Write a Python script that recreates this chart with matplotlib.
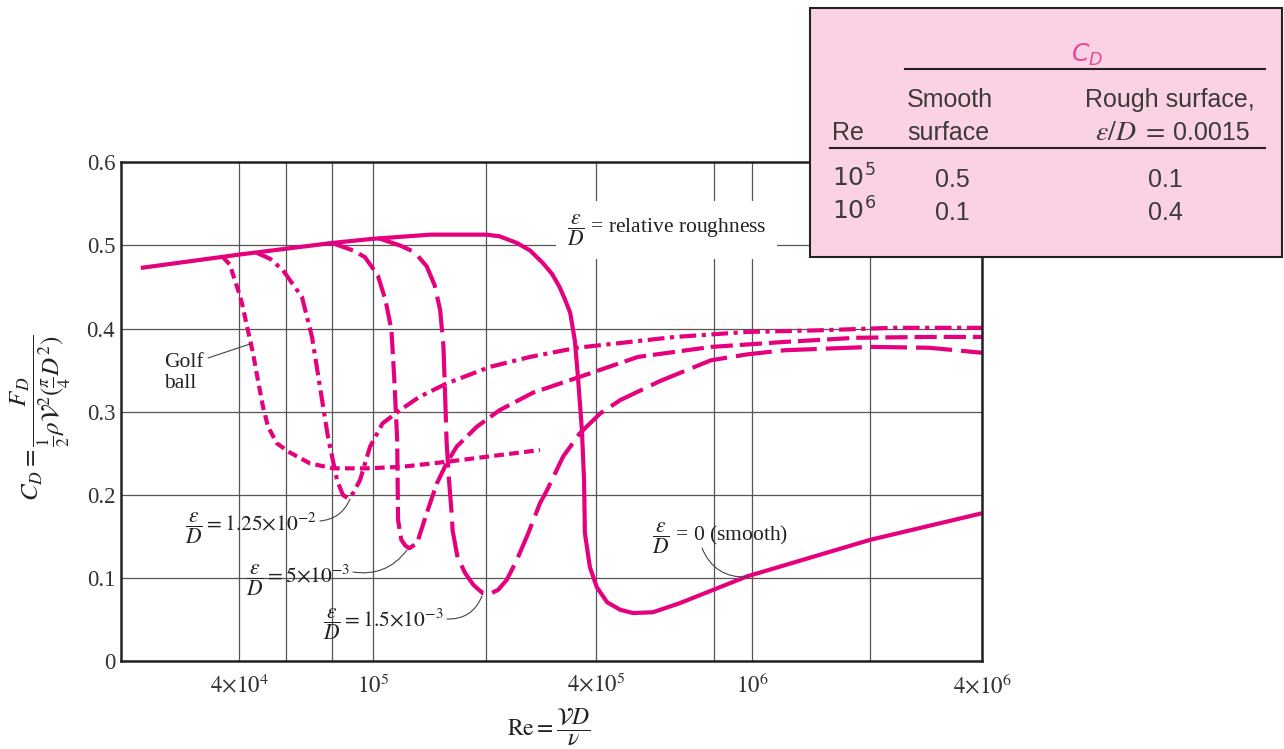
import numpy as np
import matplotlib
matplotlib.use("Agg")
import matplotlib.pyplot as plt
from matplotlib.patches import Rectangle
from matplotlib.lines import Line2D

plt.rcParams["font.family"] = ["Liberation Serif", "DejaVu Serif"]
plt.rcParams["mathtext.fontset"] = "stix"
plt.rcParams["lines.scale_dashes"] = False

MAGENTA = "#E5007D"
PINK = "#FAD2E4"
INK = "#333333"

# ---- curve data (Re, C_D) ----
RE_SMOOTH = [2.25e4, 4.0e4, 8.0e4, 1.0e5, 1.42e5, 2.01e5, 2.18e5, 2.43e5, 2.64e5, 2.86e5,
             3.03e5, 3.18e5, 3.29e5, 3.40e5, 3.50e5, 3.57e5, 3.66e5, 3.71e5, 3.73e5, 3.85e5,
             4.02e5, 4.27e5, 4.61e5, 4.97e5, 5.59e5, 6.55e5, 9.70e5, 2.0e6, 4.0e6]
CD_SMOOTH = [0.473, 0.489, 0.503, 0.508, 0.513, 0.513, 0.511, 0.503, 0.494, 0.479,
             0.466, 0.450, 0.435, 0.419, 0.386, 0.342, 0.278, 0.218, 0.154, 0.113,
             0.089, 0.071, 0.062, 0.058, 0.059, 0.070, 0.102, 0.146, 0.178]

RE_15E3 = [1.03e5, 1.18e5, 1.29e5, 1.39e5, 1.46e5, 1.51e5, 1.54e5, 1.555e5, 1.57e5, 1.59e5,
           1.62e5, 1.63e5, 1.68e5, 1.76e5, 1.85e5, 1.96e5, 2.05e5, 2.16e5, 2.28e5, 2.43e5,
           2.61e5, 2.81e5, 2.94e5, 3.25e5, 3.61e5, 4.10e5, 4.61e5, 5.83e5, 7.86e5, 9.71e5,
           1.21e6, 2.01e6, 2.88e6, 4.0e6]
CD_15E3 = [0.509, 0.500, 0.492, 0.475, 0.452, 0.422, 0.380, 0.326, 0.266, 0.224,
           0.178, 0.157, 0.125, 0.106, 0.092, 0.082, 0.081, 0.086, 0.098, 0.122,
           0.154, 0.190, 0.206, 0.246, 0.274, 0.298, 0.314, 0.337, 0.362, 0.369,
           0.374, 0.378, 0.377, 0.371]

RE_5E3 = [8.0e4, 8.97e4, 9.57e4, 1.03e5, 1.08e5, 1.12e5, 1.14e5, 1.16e5, 1.166e5, 1.19e5,
          1.22e5, 1.25e5, 1.31e5, 1.39e5, 1.48e5, 1.57e5, 1.67e5, 1.89e5, 2.18e5, 2.69e5,
          3.61e5, 5.12e5, 7.86e5, 1.21e6, 1.84e6, 2.88e6, 4.0e6]
CD_5E3 = [0.503, 0.494, 0.486, 0.464, 0.434, 0.398, 0.338, 0.266, 0.170, 0.146,
          0.139, 0.136, 0.142, 0.178, 0.214, 0.238, 0.258, 0.282, 0.302, 0.323,
          0.342, 0.366, 0.378, 0.384, 0.389, 0.390, 0.390]

RE_125E2 = [4.67e4, 5.23e4, 5.85e4, 6.63e4, 7.06e4, 7.42e4, 7.80e4, 8.22e4, 8.49e4, 8.73e4,
            8.97e4, 9.32e4, 9.84e4, 1.06e5, 1.18e5, 1.33e5, 1.57e5, 2.05e5, 2.64e5, 3.55e5,
            4.88e5, 6.36e5, 9.71e5, 1.49e6, 2.31e6, 4.0e6]
CD_125E2 = [0.491, 0.484, 0.470, 0.438, 0.390, 0.330, 0.270, 0.218, 0.200, 0.196,
            0.202, 0.218, 0.258, 0.286, 0.302, 0.318, 0.334, 0.354, 0.366, 0.377,
            0.384, 0.390, 0.396, 0.398, 0.401, 0.401]

RE_GOLF = [3.64e4, 3.79e4, 3.98e4, 4.10e4, 4.32e4, 4.51e4, 4.71e4, 4.92e4, 5.14e4, 5.55e4,
           6.15e4, 6.97e4, 8.04e4, 9.68e4, 1.20e5, 1.58e5, 2.01e5, 2.81e5]
CD_GOLF = [0.486, 0.477, 0.446, 0.431, 0.398, 0.371, 0.338, 0.306, 0.282, 0.262,
           0.251, 0.238, 0.232, 0.232, 0.234, 0.240, 0.246, 0.254]

# ---- axis ----
X_TICKS = [4e4, 1e5, 4e5, 1e6, 4e6]
X_TICK_LABELS = [r"$4{\times}10^4$", r"$10^5$", r"$4{\times}10^5$", r"$10^6$", r"$4{\times}10^6$"]
X_MINOR = [6e4, 8e4, 2e5, 8e5, 2e6]
Y_TICKS = [0, 0.1, 0.2, 0.3, 0.4, 0.5, 0.6]
Y_TICK_LABELS = ["0", "0.1", "0.2", "0.3", "0.4", "0.5", "0.6"]

# the printed log axis is hand drawn, so calibrate it on its grid lines
GRID_RE = [2e4, 4e4, 6e4, 8e4, 1e5, 2e5, 4e5, 8e5, 1e6, 2e6, 4e6]
GRID_POS = [0, 118.3, 165.3, 211.3, 252.3, 365.3, 475.3, 593.3, 631.3, 749.3, 861.3]

# ---- table ----
TABLE_RE = [r"$10^5$", r"$10^6$"]
TABLE_SMOOTH = ["0.5", "0.1"]
TABLE_ROUGH = ["0.1", "0.4"]

W, H = 1284, 749


def fx(x):
    return x / W


def fy(y):
    return 1 - y / H


LOG_RE = np.log10(GRID_RE)


def fwd(x):
    x = np.asarray(x, dtype=float)
    return np.interp(np.log10(np.clip(x, 1.0, None)), LOG_RE, GRID_POS)


def inv(p):
    return 10 ** np.interp(np.asarray(p, dtype=float), GRID_POS, LOG_RE)


fig = plt.figure(figsize=(W / 100, H / 100), dpi=100)
ax = fig.add_axes([fx(120.7), fy(661.3), fx(982) - fx(120.7), fy(162.3) - fy(661.3)])
ax.set_xscale("function", functions=(fwd, inv))
ax.set_xlim(2e4, 4e6)
ax.set_ylim(0, 0.6)

ax.set_xticks(X_TICKS)
ax.set_xticklabels(X_TICK_LABELS)
ax.set_xticks(X_MINOR, minor=True)
ax.set_yticks(Y_TICKS)
ax.set_yticklabels(Y_TICK_LABELS)
ax.tick_params(which="both", length=0, labelsize=16.5, labelcolor=INK)
ax.tick_params(axis="x", pad=9)
ax.tick_params(axis="y", pad=4)
ax.set_axisbelow(True)
ax.grid(True, which="both", axis="x", color="#555555", lw=0.9)
ax.grid(True, which="major", axis="y", color="#555555", lw=0.9)
for sp in ax.spines.values():
    sp.set_color("#222222")
    sp.set_linewidth(1.8)

style = dict(color=MAGENTA, lw=3.0, zorder=2, solid_capstyle="butt", dash_capstyle="butt")
ax.plot(RE_SMOOTH, CD_SMOOTH, solid_joinstyle="round", **style)
ax.plot(RE_15E3, CD_15E3, dashes=(26, 6.5), **style)
ax.plot(RE_5E3, CD_5E3, dashes=(16, 5), **style)
ax.plot(RE_125E2, CD_125E2, dashes=(12, 4, 3, 4), **style)
ax.plot(RE_GOLF, CD_GOLF, dashes=(7, 3.8), **style)

# ---- labels on the curves ----
ann = dict(fontsize=15.5, color="#222222")
fig.text(fx(567), fy(230), r"$\dfrac{\varepsilon}{D}$ = relative roughness", ha="left", va="center",
         zorder=1.5, bbox=dict(boxstyle="square,pad=0.5", fc="white", ec="none"), **ann)
fig.text(fx(164), fy(373), "Golf\nball", ha="left", va="center", linespacing=1.1, **ann)
fig.text(fx(185), fy(528), r"$\dfrac{\varepsilon}{D} = 1.25{\times}10^{-2}$", ha="left", va="center", **ann)
fig.text(fx(246), fy(580), r"$\dfrac{\varepsilon}{D} = 5{\times}10^{-3}$", ha="left", va="center", **ann)
fig.text(fx(323), fy(624), r"$\dfrac{\varepsilon}{D} = 1.5{\times}10^{-3}$", ha="left", va="center", **ann)
fig.text(fx(652), fy(538), r"$\dfrac{\varepsilon}{D}$ = 0 (smooth)", ha="left", va="center", **ann)

leaders = [((208, 358), (250, 344), 0.0),
           ((320, 521), (350, 499), 0.3),
           ((353, 572), (407, 550), 0.3),
           ((447, 619), (482, 596), 0.35),
           ((702, 548), (747, 577), 0.35)]
for start, end, rad in leaders:
    ax.annotate("", xy=(fx(end[0]), fy(end[1])), xytext=(fx(start[0]), fy(start[1])),
                xycoords="figure fraction", textcoords="figure fraction",
                arrowprops=dict(arrowstyle="-", color="#444444", lw=0.8,
                                connectionstyle=f"arc3,rad={rad}", shrinkA=0, shrinkB=0))

fig.text(fx(41), fy(418), r"$C_D = \dfrac{F_D}{\frac{1}{2}\rho\mathcal{V}^{2}(\frac{\pi}{4}D^2)}$",
         rotation=90, ha="center", va="center", fontsize=18, color="#222222")
fig.text(fx(549), fy(727), r"$\mathrm{Re} = \dfrac{\mathcal{V}D}{\nu}$",
         ha="center", va="center", fontsize=17, color="#222222")

# ---- inset table ----
fig.add_artist(Rectangle((fx(810), fy(257)), fx(1282) - fx(810), fy(8) - fy(257),
                         transform=fig.transFigure, facecolor=PINK, edgecolor="#222222",
                         lw=1.5, zorder=5))
fig.add_artist(Line2D([fx(905), fx(1265)], [fy(69), fy(69)], transform=fig.transFigure,
                      color="#222222", lw=1.5, zorder=6))
fig.add_artist(Line2D([fx(830), fx(1265)], [fy(148), fy(148)], transform=fig.transFigure,
                      color="#222222", lw=1.5, zorder=6))

tab = dict(fontsize=18, color="#3a3a3a", family="Liberation Sans", zorder=7, va="baseline")
fig.text(fx(1087), fy(62), r"$C_D$", ha="center", math_fontfamily="dejavusans",
         fontsize=18, color="#E5489A", zorder=7, va="baseline")
fig.text(fx(907), fy(107), "Smooth", ha="left", **tab)
fig.text(fx(907), fy(140), "surface", ha="left", **tab)
fig.text(fx(832), fy(140), "Re", ha="left", **tab)
fig.text(fx(1255), fy(107), "Rough surface,", ha="right", **tab)
fig.text(fx(1250), fy(140), "0.0015", ha="right", **tab)
fig.text(fx(1166), fy(140), r"$\varepsilon/D\ =$", ha="right", fontsize=20, color="#3a3a3a",
         zorder=7, va="baseline")
for i, (re, sm, ro) in enumerate(zip(TABLE_RE, TABLE_SMOOTH, TABLE_ROUGH)):
    base = 187 + 33 * i
    fig.text(fx(832), fy(base), re, ha="left", math_fontfamily="dejavusans", **tab)
    fig.text(fx(952), fy(base), sm, ha="center", **tab)
    fig.text(fx(1165), fy(base), ro, ha="center", **tab)

fig.savefig("out.png", dpi=100)
